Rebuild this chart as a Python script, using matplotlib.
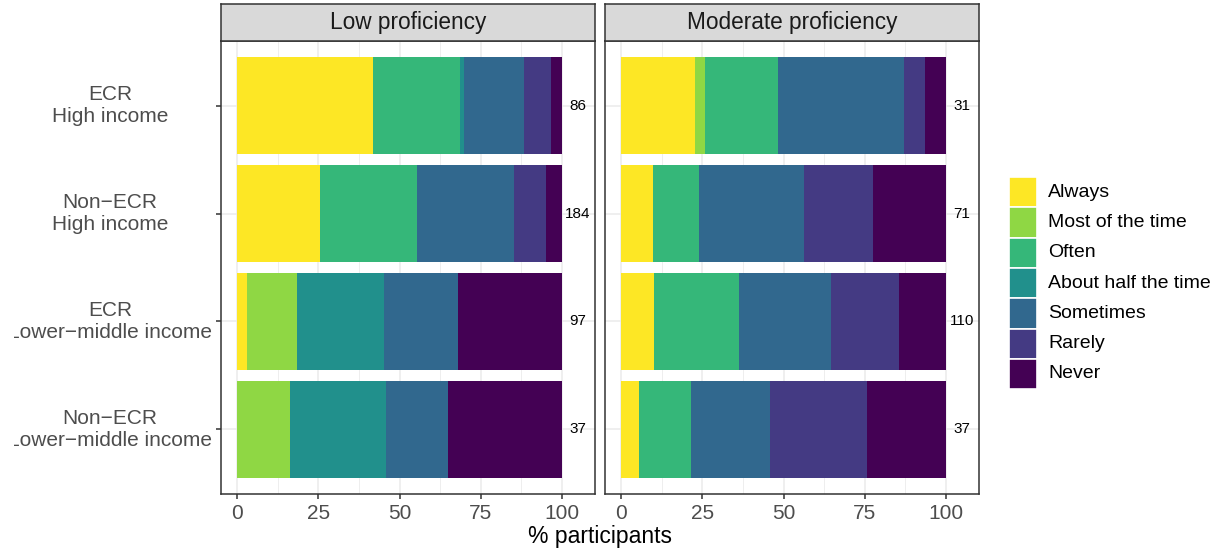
import numpy as np
import matplotlib.pyplot as plt
from matplotlib.patches import Rectangle
from matplotlib.transforms import blended_transform_factory

# response levels, from most to least frequent use
levels = ['Always', 'Most of the time', 'Often', 'About half the time',
          'Sometimes', 'Rarely', 'Never']
groups = ['ECR\nHigh income', 'Non\u2212ECR\nHigh income',
          'ECR\nLower\u2212middle income', 'Non\u2212ECR\nLower\u2212middle income']
facets = ['Low proficiency', 'Moderate proficiency']

# participant counts per group (rows) and response level (columns)
lowCounts = [
    [36, 0, 23, 1, 16, 7, 3],
    [47, 0, 55, 0, 55, 18, 9],
    [3, 15, 0, 26, 22, 0, 31],
    [0, 6, 0, 11, 7, 0, 13],
]
moderateCounts = [
    [7, 1, 7, 0, 12, 2, 2],
    [7, 0, 10, 0, 23, 15, 16],
    [11, 0, 29, 0, 31, 23, 16],
    [2, 0, 6, 0, 9, 11, 9],
]

colors = ['#FDE725', '#8FD744', '#35B779', '#21908C', '#31688E', '#443A83', '#440154']

plt.rcParams['font.family'] = ['Liberation Sans', 'DejaVu Sans']

W, H = 1211, 550
fig = plt.figure(figsize=(W / 100, H / 100), dpi=100)


def box(x0, y0, w, h):
    # pixel box (top-left origin) -> figure fraction rect
    return [x0 / W, 1 - (y0 + h) / H, w / W, h / H]


def stripAxes(rect, label):
    s = fig.add_axes(rect)
    s.set_facecolor('#d9d9d9')
    s.set_xticks([])
    s.set_yticks([])
    for sp in s.spines.values():
        sp.set_color('#333333')
        sp.set_linewidth(1.1)
    if label:
        s.text(0.5, 0.5, label, ha='center', va='center', fontsize=16.3,
               color='#1a1a1a', transform=s.transAxes)
    return s


panelLefts = [221, 605]
for k, counts in enumerate([lowCounts, moderateCounts]):
    counts = np.array(counts, dtype=float)
    totals = counts.sum(axis=1)
    pct = counts / totals[:, None] * 100

    ax = fig.add_axes(box(panelLefts[k], 41, 374, 453))
    y = np.arange(len(groups))
    cum = np.zeros(len(groups))
    for j in range(len(levels)):
        ax.barh(y, pct[:, j], left=cum, height=0.9, color=colors[j], linewidth=0)
        cum += pct[:, j]

    for i in range(len(groups)):
        ax.text(105, y[i], '%d' % totals[i], ha='center', va='center',
                fontsize=11, color='black')

    ax.set_xlim(-5, 110.2)
    ax.set_ylim(3.6, -0.6)
    ax.set_xticks([0, 25, 50, 75, 100])
    ax.set_xticks([12.5, 37.5, 62.5, 87.5], minor=True)
    ax.set_yticks(y)
    ax.set_yticklabels([])
    ax.set_axisbelow(True)
    ax.grid(which='major', color='#ebebeb', linewidth=1.1)
    ax.grid(which='minor', axis='x', color='#ebebeb', linewidth=0.6)
    ax.tick_params(axis='both', which='major', length=3.5, width=1.1,
                   color='#333333', labelcolor='#4d4d4d', labelsize=15, pad=4)
    ax.tick_params(which='minor', length=0)
    if k == 0:
        # group labels, all centred on one column left of the panel
        tr = blended_transform_factory(fig.transFigure, ax.transData)
        for i, g in enumerate(groups):
            ax.text(110 / W, y[i], g, transform=tr, ha='center', va='center',
                    ma='center', fontsize=15, color='#4d4d4d', clip_on=False)
    else:
        ax.tick_params(axis='y', length=0)
    for sp in ax.spines.values():
        sp.set_color('#333333')
        sp.set_linewidth(1.1)

    stripAxes(box(panelLefts[k], 4, 374, 37), facets[k])

# piece of a neighbouring panel at the far left edge, drawn over the labels
fig.add_artist(Rectangle((0, 0), 14 / W, 1, transform=fig.transFigure,
                         facecolor='white', edgecolor='none', zorder=5))
edge = fig.add_axes(box(-60, 34, 64, 465))
edge.set_xticks([])
edge.set_yticks([])
for sp in edge.spines.values():
    sp.set_color('#333333')
    sp.set_linewidth(1.1)
stripAxes(box(-60, -5, 64, 39), None)

fig.text(600 / W, 1 - 537 / H, '% participants', ha='center', va='center',
         fontsize=16.5, color='black')

# legend keys and labels
lg = fig.add_axes(box(1009, 177, 202, 212))
lg.set_xlim(0, 202)
lg.set_ylim(212, 0)
lg.axis('off')
for j, name in enumerate(levels):
    lg.add_patch(Rectangle((0, j * 30.3), 28.3, 30.3, facecolor=colors[j],
                           edgecolor='white', linewidth=1.2))
    lg.text(39, j * 30.3 + 15.2, name, ha='left', va='center', fontsize=14,
            color='black')

fig.savefig('out.png', dpi=100)
